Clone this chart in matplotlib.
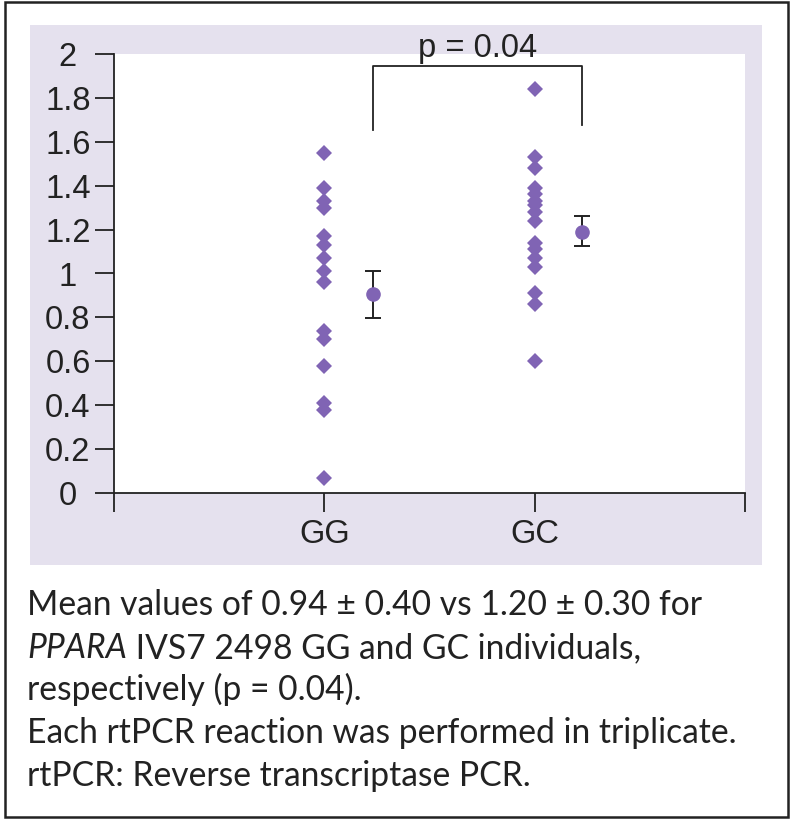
import matplotlib.pyplot as plt
from matplotlib.patches import Rectangle

# Datos
groups = ['GG', 'GC']
gg_values = [1.55, 1.39, 1.33, 1.30, 1.17, 1.13, 1.07, 1.01, 0.96,
             0.74, 0.70, 0.58, 0.41, 0.38, 0.07]
gc_values = [1.84, 1.53, 1.48, 1.39, 1.36, 1.33, 1.31, 1.28, 1.24,
             1.14, 1.11, 1.07, 1.03, 0.91, 0.86, 0.60]
means = [0.905, 1.19]
err_low = [0.795, 1.127]
err_high = [1.011, 1.263]
p_text = 'p = 0.04'
caption = ['Mean values of 0.94 \u00b1 0.40 vs 1.20 \u00b1 0.30 for',
           ('PPARA', ' IVS7 2498 GG and GC individuals,'),
           'respectively (p = 0.04).',
           'Each rtPCR reaction was performed in triplicate.',
           'rtPCR: Reverse transcriptase PCR.']

purple = '#8064b4'
dark = '#222222'
lavender = '#e5e1ee'

W, H = 799, 830
fig = plt.figure(figsize=(W / 100, H / 100), dpi=100)

# Marco exterior y panel lila
fig.patches.append(Rectangle((5 / W, 13 / H), 783 / W, 815 / H, transform=fig.transFigure,
                             facecolor='white', edgecolor=dark, linewidth=1.8, zorder=-3))
fig.patches.append(Rectangle((30 / W, (H - 565) / H), 732 / W, 540 / H, transform=fig.transFigure,
                             facecolor=lavender, edgecolor='none', zorder=-2))

ax = fig.add_axes([114 / W, (H - 493) / H, 631 / W, 439 / H])
ax.set_facecolor('white')

tick_font = dict(family=['Liberation Sans', 'DejaVu Sans'], size=23.5, color=dark)

# Puntos individuales
ax.plot([1] * len(gg_values), gg_values, 'D', color=purple, markersize=8.6,
        markeredgewidth=0, zorder=3)
ax.plot([2] * len(gc_values), gc_values, 'D', color=purple, markersize=8.6,
        markeredgewidth=0, zorder=3)

# Medias con barras de error
mean_x = [1.23, 2.225]
for x, m, lo, hi in zip(mean_x, means, err_low, err_high):
    ax.errorbar(x, m, yerr=[[m - lo], [hi - m]], fmt='o', color=purple,
                markersize=9.5, ecolor=dark, elinewidth=1.4, capsize=5.5,
                capthick=1.4, zorder=4)

# Corchete de significancia
ax.plot([mean_x[0], mean_x[0], mean_x[1], mean_x[1]], [1.655, 1.945, 1.945, 1.675],
        color=dark, linewidth=1.3, clip_on=False)
ax.text((mean_x[0] + mean_x[1]) / 2, 1.955, p_text, ha='center', va='bottom',
        clip_on=False, **tick_font)

ax.set_xlim(0, 3)
ax.set_ylim(0, 2)
ax.set_xticks([0, 1, 2, 3])
ax.set_xticklabels(['', groups[0], groups[1], ''])
ax.set_yticks([0, 0.2, 0.4, 0.6, 0.8, 1, 1.2, 1.4, 1.6, 1.8, 2])
ax.set_yticklabels(['0', '0.2', '0.4', '0.6', '0.8', '1', '1.2', '1.4', '1.6', '1.8', '2'])
for lbl in ax.get_xticklabels() + ax.get_yticklabels():
    lbl.set_fontfamily(tick_font['family'])
    lbl.set_fontsize(tick_font['size'])
    lbl.set_color(dark)
for lbl in ax.get_yticklabels():
    lbl.set_horizontalalignment('center')
ax.tick_params(axis='both', direction='out', length=13.7, width=1.3, color=dark)
ax.tick_params(axis='y', pad=19.5)
ax.tick_params(axis='x', pad=5)
for side in ['top', 'right']:
    ax.spines[side].set_visible(False)
for side in ['left', 'bottom']:
    ax.spines[side].set_linewidth(1.3)
    ax.spines[side].set_color(dark)

# Pie de figura
cap_font = dict(family=['Lato', 'DejaVu Sans'], size=24.2, color=dark)
baselines = [615, 658, 700, 743, 786]
fig.canvas.draw()
renderer = fig.canvas.get_renderer()
for line, yb in zip(caption, baselines):
    y = (H - yb) / H
    if isinstance(line, tuple):
        t = fig.text(27 / W, y, line[0], va='baseline', style='italic', **cap_font)
        bb = t.get_window_extent(renderer)
        fig.text(bb.x1 / W, y, line[1], va='baseline', **cap_font)
    else:
        fig.text(27 / W, y, line, va='baseline', **cap_font)

fig.savefig('out.png', dpi=100)
